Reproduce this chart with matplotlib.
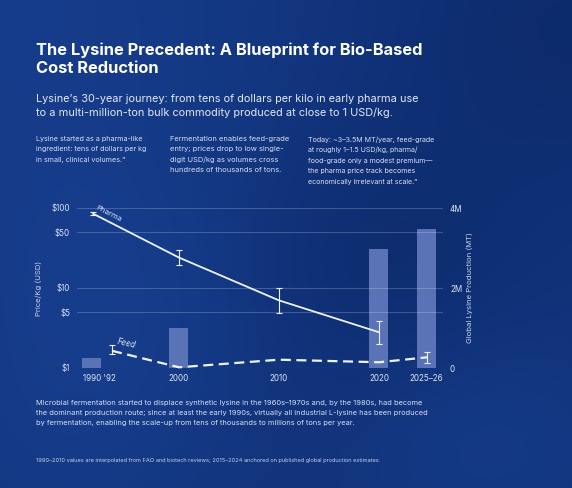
import numpy as np
import matplotlib
matplotlib.use('Agg')
import matplotlib.pyplot as plt
from matplotlib.ticker import FixedLocator, NullLocator

plt.rcParams['font.family'] = ['Inter', 'DejaVu Sans']

# ---- data ----
bar_years = [1991.3, 2000, 2020, 2024.8]
production_mt = [0.24e6, 0.99e6, 2.97e6, 3.47e6]

pharma_years = [1991.4, 2000, 2010, 2020]
pharma_price = [85, 24, 7, 2.8]
pharma_low = [81, 19.4, 4.9, 2.0]
pharma_high = [89, 30, 10, 3.9]

feed_years = [1993.3, 2000, 2010, 2020, 2024.8]
feed_price = [1.64, 1.02, 1.27, 1.18, 1.36]
feed_err_years = [1993.3, 2024.8]
feed_err_low = [1.48, 1.17]
feed_err_high = [1.94, 1.57]

tick_years = [1992, 2000, 2010, 2020, 2024.7]
tick_labels = ["1990 '92", '2000', '2010', '2020', '2025–26']
price_ticks = [1, 5, 10, 50, 100]
price_labels = ['$1', '$5', '$10', '$50', '$100']
prod_ticks = [0, 2e6, 4e6]
prod_labels = ['0', '2M', '4M']

W, H = 572, 488
fig = plt.figure(figsize=(W / 100, H / 100), dpi=100)
renderer = fig.canvas.get_renderer()

# background: navy with soft lighter patches
bg = fig.add_axes([0, 0, 1, 1])
gx, gy = np.meshgrid(np.linspace(0, 1, 240), np.linspace(0, 1, 240))


def blob(cx, cy, s):
    return np.exp(-((gx - cx) ** 2 + (gy - cy) ** 2) / s)


shade = (0.35 * blob(0.0, 0.0, 0.25) + 0.3 * blob(0.2, 0.6, 0.1)
         + 0.25 * blob(0.85, 0.9, 0.06) + 0.2 * blob(0.1, 0.95, 0.08)
         - 0.25 * blob(0.65, 0.55, 0.08) - 0.3 * blob(1.0, 0.05, 0.1))
shade = (0.5 + shade).clip(0, 1)
dark = np.array([10, 38, 100]) / 255
light = np.array([24, 64, 145]) / 255
img = dark + (light - dark) * shade[..., None]
bg.imshow(img, extent=[0, 1, 0, 1], aspect='auto', origin='upper')
bg.axis('off')


def px(x, y):
    return x / W, 1 - y / H


def lines_at(x, y0, step, lines, fit_line, fit_width, fontsize, **kw):
    # draw a block of lines, then scale the font so one line spans fit_width px
    texts = [fig.text(*px(x, y0 + i * step), s, va='baseline', ha='left', fontsize=fontsize, **kw)
             for i, s in enumerate(lines)]
    w = texts[fit_line].get_window_extent(renderer).width
    for t in texts:
        t.set_fontsize(fontsize * fit_width / w)


# texts
lines_at(36, 55, 18, ['The Lysine Precedent: A Blueprint for Bio-Based', 'Cost Reduction'], 0, 386,
         11.85, fontweight='bold', color='white')
lines_at(36, 101.5, 14.3, ['Lysine’s 30-year journey: from tens of dollars per kilo in early pharma use',
                           'to a multi-million-ton bulk commodity produced at close to 1 USD/kg.'], 0, 382,
         7.9, color='#e3e8f5')
ann = dict(color='#d8dff0')
lines_at(36, 141, 10.5, ['Lysine started as a pharma-like', 'ingredient: tens of dollars per kg',
                         'in small, clinical volumes.”'], 1, 110.5, 5.65, **ann)
lines_at(170, 141, 10.5, ['Fermentation enables feed-grade', 'entry; prices drop to low single-',
                          'digit USD/kg as volumes cross', 'hundreds of thousands of tons.'], 0, 118.5, 5.65, **ann)
lines_at(308, 141.7, 10.5, ['Today: ~3–3.5M MT/year, feed-grade', 'at roughly 1–1.5 USD/kg, pharma/',
                            'food-grade only a modest premium—', 'the pharma price track becomes',
                            'economically irrelevant at scale.”'], 2, 125, 5.65, **ann)
lines_at(36, 405.3, 10, ['Microbial fermentation started to displace synthetic lysine in the 1960s–1970s and, by the 1980s, had become',
                         'the dominant production route; since at least the early 1990s, virtually all industrial L-lysine has been produced',
                         'by fermentation, enabling the scale-up from tens of thousands to millions of tons per year.'], 1, 388,
         5.7, color='#d8dff0')
lines_at(36, 462.3, 0, ['1990–2010 values are interpolated from FAO and biotech reviews; 2015–2024 anchored on published global production estimates.'],
         0, 344, 4.05, color='#c5cee8')

# chart
left, right, top, bottom = 77, 443, 208, 368
rect = [left / W, 1 - bottom / H, (right - left) / W, (bottom - top) / H]
ax2 = fig.add_axes(rect)
ax = fig.add_axes(rect, sharex=ax2)
ax2.patch.set_visible(False)
ax.patch.set_visible(False)

ax2.bar(bar_years, production_mt, width=1.9, color='#5a72b6', zorder=1)
ax2.set_ylim(0, 4e6)
ax2.set_xlim(1989.8, 2026.4)
ax2.yaxis.tick_right()
ax2.yaxis.set_label_position('right')
ax2.set_yticks(prod_ticks, prod_labels)
ax2.set_ylabel('Global Lysine Production (MT)', rotation=90, color='#c9d2ea', fontsize=5.6, labelpad=3)

ax.set_yscale('log')
ax.set_ylim(1, 100)
ax.yaxis.set_major_locator(FixedLocator(price_ticks))
ax.yaxis.set_minor_locator(NullLocator())
ax.set_yticks(price_ticks, price_labels)
ax.grid(axis='y', color='white', alpha=0.2, linewidth=0.8)
ax.set_ylabel('Price/Kg (USD)', color='#c9d2ea', fontsize=5.6, labelpad=7)

line_col = '#eef2fb'
ax.plot(pharma_years, pharma_price, color=line_col, linewidth=1.3, solid_capstyle='round', clip_on=False)
pe = [np.subtract(pharma_price, pharma_low), np.subtract(pharma_high, pharma_price)]
ax.errorbar(pharma_years, pharma_price, yerr=pe, fmt='none', ecolor=line_col, elinewidth=0.8,
            capsize=2.2, capthick=0.8, clip_on=False)
ax.plot(feed_years, feed_price, color=line_col, linewidth=1.6, dashes=(4.5, 2.5), clip_on=False)
fmid = [feed_price[0], feed_price[-1]]
fe = [np.subtract(fmid, feed_err_low), np.subtract(feed_err_high, fmid)]
ax.errorbar(feed_err_years, fmid, yerr=fe, fmt='none', ecolor=line_col, elinewidth=0.8,
            capsize=2.2, capthick=0.8, clip_on=False)

ax.text(1993.0, 86, 'Pharma', rotation=-27, fontsize=5.6, color='#dfe5f5', ha='center', va='center')
ax.text(1994.7, 2.0, 'Feed', rotation=-12, fontsize=5.8, color='#dfe5f5', ha='center', va='center',
        style='italic')

ax.set_xticks(tick_years, tick_labels)
for a in (ax, ax2):
    for s in a.spines.values():
        s.set_visible(False)
    a.tick_params(length=0, labelsize=5.8, labelcolor='#dde3f3', pad=5)
ax2.tick_params(axis='x', labelbottom=False)
ax.tick_params(axis='x', pad=4)

fig.savefig('out.png', dpi=100)
